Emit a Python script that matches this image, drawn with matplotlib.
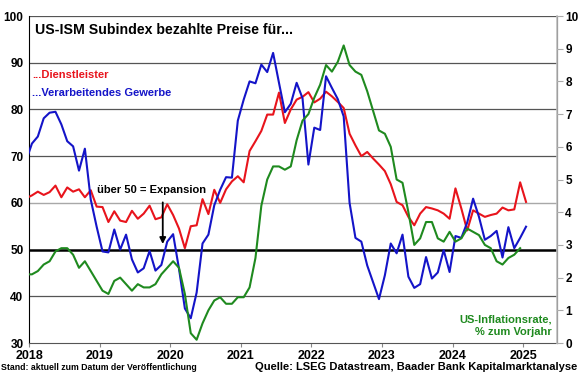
import matplotlib
matplotlib.use("Agg")
import matplotlib.pyplot as plt
import numpy as np

plt.rcParams['font.family'] = ['Liberation Sans', 'DejaVu Sans']
plt.rcParams['font.weight'] = 'bold'

# monthly series, first value = Dec 2017 (clipped at the left edge)
ism_services = [61.0,
    61.6, 62.4, 61.7, 62.3, 63.7, 61.2, 63.3, 62.4, 62.9, 61.2, 62.7, 59.2,
    59.1, 55.9, 58.2, 56.2, 55.9, 58.3, 56.6, 57.7, 59.4, 56.5, 56.9, 59.7,
    57.4, 54.5, 50.3, 55.0, 55.2, 60.8, 57.6, 62.8, 60.0, 62.9, 64.6, 65.7,
    64.4, 71.1, 73.2, 75.4, 78.9, 78.9, 83.6, 77.1, 80.0, 82.1, 82.7, 83.7,
    81.5, 82.3, 83.8, 82.8, 81.6, 80.3, 74.8, 72.3, 70.0, 70.9, 69.5, 68.2,
    66.8, 64.0, 60.2, 59.5, 57.0, 55.2, 57.7, 59.1, 58.8, 58.4, 57.7, 56.6,
    63.1, 58.8, 54.1, 58.4, 57.7, 57.0, 57.4, 57.7, 59.0, 58.4, 58.6, 64.4,
    60.2]
ism_manufacturing = [69.0,
    72.7, 74.2, 78.1, 79.3, 79.5, 76.8, 73.2, 72.1, 66.9, 71.6, 60.7, 54.9,
    49.6, 49.4, 54.3, 50.0, 53.2, 47.9, 45.1, 46.0, 49.7, 45.5, 46.7, 51.7,
    53.3, 45.9, 37.4, 35.3, 40.8, 51.3, 53.2, 59.5, 62.8, 65.5, 65.4, 77.6,
    82.1, 86.0, 85.6, 89.6, 88.0, 92.1, 85.7, 79.4, 81.2, 85.7, 82.4, 68.2,
    76.1, 75.6, 87.1, 84.6, 82.2, 78.5, 60.0, 52.5, 51.7, 46.6, 43.0, 39.4,
    44.5, 51.3, 49.2, 53.2, 44.2, 41.8, 42.6, 48.4, 43.8, 45.1, 49.9, 45.2,
    52.9, 52.5, 55.8, 60.9, 57.0, 52.1, 52.9, 54.0, 48.3, 54.8, 50.3, 52.5,
    54.9]
us_cpi_yoy = [2.1,
    2.1, 2.2, 2.4, 2.5, 2.8, 2.9, 2.9, 2.7, 2.3, 2.5, 2.2, 1.9,
    1.6, 1.5, 1.9, 2.0, 1.8, 1.6, 1.8, 1.7, 1.7, 1.8, 2.1, 2.3,
    2.5, 2.3, 1.5, 0.3, 0.1, 0.6, 1.0, 1.3, 1.4, 1.2, 1.2, 1.4,
    1.4, 1.7, 2.6, 4.2, 5.0, 5.4, 5.4, 5.3, 5.4, 6.2, 6.8, 7.0,
    7.5, 7.9, 8.5, 8.3, 8.6, 9.1, 8.5, 8.3, 8.2, 7.7, 7.1, 6.5,
    6.4, 6.0, 5.0, 4.9, 4.0, 3.0, 3.2, 3.7, 3.7, 3.2, 3.1, 3.4,
    3.1, 3.2, 3.5, 3.4, 3.3, 3.0, 2.9, 2.5, 2.4, 2.6, 2.7, 2.9]
years = [2018, 2019, 2020, 2021, 2022, 2023, 2024, 2025]
left_ticks = [30, 40, 50, 60, 70, 80, 90, 100]
right_ticks = [0, 1, 2, 3, 4, 5, 6, 7, 8, 9, 10]

def month_pos(n):
    # mid-month positions starting Dec 2017
    return 2017 + (11.5 + np.arange(n)) / 12

red = '#e8141c'
blue = '#1414c8'
green = '#1f8a1f'

fig = plt.figure(figsize=(5.8, 3.75), dpi=100)
ax = fig.add_axes([0.05, 0.0853, 0.9103, 0.872])
ax2 = ax.twinx()

for v in [40, 70, 80, 90, 100]:
    ax.axhline(v, color='#555555', lw=0.9, zorder=0)
ax.axhline(60, color='#a8a8a8', lw=1.0, zorder=0)
ax.axhline(50, color='black', lw=1.8, zorder=1)

ax.plot(month_pos(len(ism_services)), ism_services, color=red, lw=1.5, zorder=3)
ax.plot(month_pos(len(ism_manufacturing)), ism_manufacturing, color=blue, lw=1.5, zorder=3)
ax2.plot(month_pos(len(us_cpi_yoy)), us_cpi_yoy, color=green, lw=1.5)

ax.set_xlim(2018, 2025.48)
ax.set_ylim(30, 100)
ax2.set_ylim(0, 10)
ax.set_yticks(left_ticks)
ax2.set_yticks(right_ticks)
ax.set_xticks(years)
ax.set_xticklabels([str(y) for y in years], fontsize=9)
ax.tick_params(axis='y', length=0, labelsize=8.5, pad=4)
ax.tick_params(axis='x', length=3, color='#888888', labelsize=9, pad=2)
ax2.tick_params(axis='y', length=4, color='#aaaaaa', labelsize=8.5, pad=2)

for a in (ax, ax2):
    a.spines['top'].set_visible(False)
ax.spines['left'].set_color('black')
ax.spines['bottom'].set_color('#555555')
ax2.spines['left'].set_visible(False)
ax2.spines['bottom'].set_visible(False)
ax2.spines['right'].set_color('#c0c0c0')
ax2.spines['right'].set_linewidth(1.2)

W, H = 580, 375
def ft(x, y, s, **kw):
    fig.text(x / W, 1 - y / H, s, va='center', **kw)

ft(35, 30, 'US-ISM Subindex bezahlte Preise für...', fontsize=10.2, color='black')
ft(32, 75, '...Dienstleister', fontsize=8, color=red)
ft(32, 93, '...Verarbeitendes Gewerbe', fontsize=8, color=blue)
ft(97, 190, 'über 50 = Expansion', fontsize=8, color='black')
ft(552, 320, 'US-Inflationsrate,', fontsize=8, color=green, ha='right')
ft(552, 332, '% zum Vorjahr', fontsize=8, color=green, ha='right')
ft(1, 368, 'Stand: aktuell zum Datum der Veröffentlichung', fontsize=6.3, color='black')
ft(577, 367, 'Quelle: LSEG Datastream, Baader Bank Kapitalmarktanalyse', fontsize=8, color='black', ha='right')

ax.annotate('', xy=(2019.895, 50.6), xytext=(2019.895, 60.7),
            arrowprops=dict(arrowstyle='-|>', color='black', lw=1.3, mutation_scale=9))

fig.savefig('out.png', dpi=100)
